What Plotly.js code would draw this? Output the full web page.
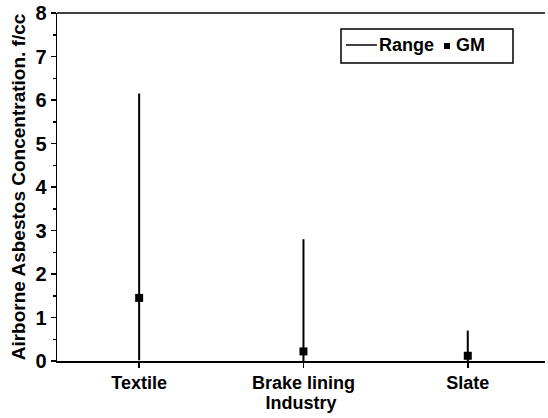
<!DOCTYPE html>
<html>
<head>
<meta charset="utf-8">
<script src="https://cdn.plot.ly/plotly-3.0.1.min.js"></script>
<style>html,body{margin:0;padding:0;background:#fff;}#chart{width:548px;height:418px;}</style>
</head>
<body>
<div id="chart"></div>
<script>
var industries = ["Textile", "Brake lining", "Slate"];
var rangeMin = [0.02, 0.0, 0.0];
var rangeMax = [6.15, 2.8, 0.7];
var gm = [1.45, 0.22, 0.12];
var legendLabels = ["Range", "GM"];

var rx = [], ry = [];
for (var i = 0; i < industries.length; i++) {
  rx.push(i, i, null);
  ry.push(rangeMin[i], rangeMax[i], null);
}
var idx = industries.map(function(_, i){ return i; });

var traces = [
  {x: rx, y: ry, type: 'scatter', mode: 'lines', name: legendLabels[0],
   line: {color: '#000', width: 2}, connectgaps: false, hoverinfo: 'skip'},
  {x: idx, y: gm, type: 'scatter', mode: 'markers', name: legendLabels[1],
   marker: {symbol: 'square', size: 8, color: '#000'}}
];

var fam = 'Liberation Sans, Arial, sans-serif';
var W = 548, H = 418, L = 57, R = 3, T = 13, B = 57;
var pw = W - L - R, ph = H - T - B;
function px(x){ return (x - L) / pw; }
function py(y){ return (H - B - y) / ph; }

var layout = {
  width: W, height: H,
  margin: {l: L, r: R, t: T, b: B},
  paper_bgcolor: '#fff', plot_bgcolor: '#fff',
  font: {family: fam, size: 18, color: '#000'},
  showlegend: false,
  xaxis: {
    range: [-0.5, 2.47], tickmode: 'array', tickvals: idx, ticktext: industries,
    ticks: 'outside', ticklen: 5, tickcolor: '#000', tickwidth: 1.5,
    showline: true, linecolor: '#000', linewidth: 1.5,
    showgrid: false, zeroline: false,
    tickfont: {family: fam, size: 18, color: '#000', weight: 'bold'},
    title: {text: 'Industry', font: {family: fam, size: 18, color: '#000', weight: 'bold'}, standoff: 2}
  },
  yaxis: {
    range: [0, 8], dtick: 1, ticks: 'outside', ticklen: 5, tickcolor: '#000', tickwidth: 1.5,
    minor: {dtick: 0.5, ticks: 'outside', ticklen: 3, tickcolor: '#000', showgrid: false},
    showline: true, linecolor: '#000', linewidth: 1.5,
    showgrid: false, zeroline: false,
    tickfont: {family: fam, size: 20, color: '#000', weight: 'bold'},
    title: {text: 'Airborne Asbestos Concentration. f/cc', font: {family: fam, size: 19, color: '#000', weight: 'bold'}, standoff: 4}
  },
  shapes: [
    {type: 'line', xref: 'paper', yref: 'paper', x0: 0, x1: 1, y0: 1, y1: 1, line: {color: '#000', width: 1.5}},
    {type: 'rect', xref: 'paper', yref: 'paper', x0: px(341), x1: px(513), y0: py(63), y1: py(29), line: {color: '#000', width: 1.5}, fillcolor: '#fff'},
    {type: 'line', xref: 'paper', yref: 'paper', x0: px(346), x1: px(377), y0: py(45), y1: py(45), line: {color: '#000', width: 1.5}},
    {type: 'rect', xref: 'paper', yref: 'paper', x0: px(444), x1: px(450), y0: py(49), y1: py(43), line: {width: 0}, fillcolor: '#000'}
  ],
  annotations: [
    {xref: 'paper', yref: 'paper', x: px(377), y: py(45), xanchor: 'left', yanchor: 'middle', showarrow: false,
     text: legendLabels[0], font: {family: fam, size: 18, color: '#000', weight: 'bold'}},
    {xref: 'paper', yref: 'paper', x: px(454), y: py(45), xanchor: 'left', yanchor: 'middle', showarrow: false,
     text: legendLabels[1], font: {family: fam, size: 18, color: '#000', weight: 'bold'}}
  ]
};

Plotly.newPlot('chart', traces, layout, {displayModeBar: false, staticPlot: true});
</script>
</body>
</html>
